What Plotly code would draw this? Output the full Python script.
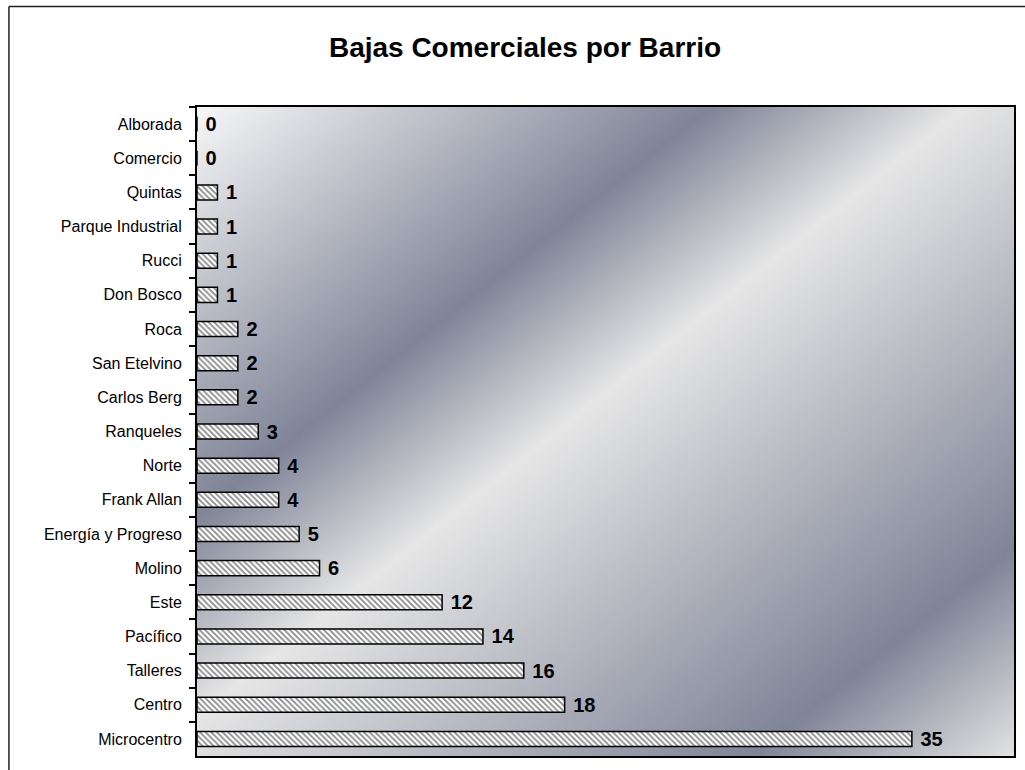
import base64
import plotly.graph_objects as go

barrios = ["Alborada", "Comercio", "Quintas", "Parque Industrial", "Rucci", "Don Bosco",
           "Roca", "San Etelvino", "Carlos Berg", "Ranqueles", "Norte", "Frank Allan",
           "Energía y Progreso", "Molino", "Este", "Pacífico", "Talleres", "Centro", "Microcentro"]
bajas = [0, 0, 1, 1, 1, 1, 2, 2, 2, 3, 4, 4, 5, 6, 12, 14, 16, 18, 35]
title_text = "Bajas Comerciales por Barrio"

FONT = "Arial, 'Liberation Sans', sans-serif"

svg = """<svg xmlns='http://www.w3.org/2000/svg' width='100' height='100' viewBox='0 0 100 100' preserveAspectRatio='none'>
<defs><linearGradient id='g' x1='0' y1='0' x2='1' y2='1'>
<stop offset='0' stop-color='#f7f7f7'/>
<stop offset='0.315' stop-color='#7f8497'/>
<stop offset='0.47' stop-color='#e6e6e6'/>
<stop offset='0.84' stop-color='#7f8497'/>
<stop offset='1' stop-color='#e2e2e2'/>
</linearGradient></defs>
<rect x='0' y='0' width='100' height='100' fill='url(#g)'/></svg>"""
bg_uri = "data:image/svg+xml;base64," + base64.b64encode(svg.encode()).decode()

fig = go.Figure(go.Bar(
    x=bajas, y=barrios, orientation="h",
    marker=dict(color="white", line=dict(color="black", width=1.5),
                pattern=dict(shape="\\", fgcolor="#8a8a8a", bgcolor="white",
                             fillmode="replace", size=4, solidity=0.45)),
    text=bajas, texttemplate="\u00a0%{x}", textposition="outside", constraintext="none",
    textfont=dict(family=FONT, size=20, color="black", weight="bold"),
    cliponaxis=False, width=0.44,
))

fig.update_layout(
    width=1025, height=770,
    margin=dict(l=197, r=9, t=107, b=14),
    paper_bgcolor="white", plot_bgcolor="rgba(0,0,0,0)",
    showlegend=False,
    title=dict(text="<b>" + title_text + "</b>", font=dict(family=FONT, size=28, color="black"),
               x=525/1025, xref="container", xanchor="center",
               y=1-47/770, yref="container", yanchor="middle"),
    images=[dict(source=bg_uri, xref="paper", yref="paper", x=0, y=1, sizex=1, sizey=1,
                 sizing="stretch", layer="below", xanchor="left", yanchor="top")],
    xaxis=dict(range=[0, 40], showticklabels=False, showgrid=False, zeroline=False,
               showline=True, linecolor="black", linewidth=1.5, mirror=True, ticks=""),
    yaxis=dict(autorange="reversed", showgrid=False, zeroline=False,
               showline=True, linecolor="black", linewidth=2, mirror=True,
               ticks="outside", tickson="boundaries", ticklen=6, tickwidth=1.5, tickcolor="black",
               tickfont=dict(family=FONT, size=16, color="black"), ticklabelstandoff=10),
    shapes=[
        dict(type="line", xref="paper", yref="paper", x0=-0.2302, x1=-0.2302, y0=-0.1, y1=1.1549,
             line=dict(color="#222222", width=1.5)),
        dict(type="line", xref="paper", yref="paper", x0=-0.2302, x1=1.1, y0=1.1549, y1=1.1549,
             line=dict(color="#222222", width=1.5)),
    ],
)

fig.write_html("out.html", config={"displayModeBar": False},
               post_script="document.body.style.margin='0';document.body.style.overflow='hidden';")
